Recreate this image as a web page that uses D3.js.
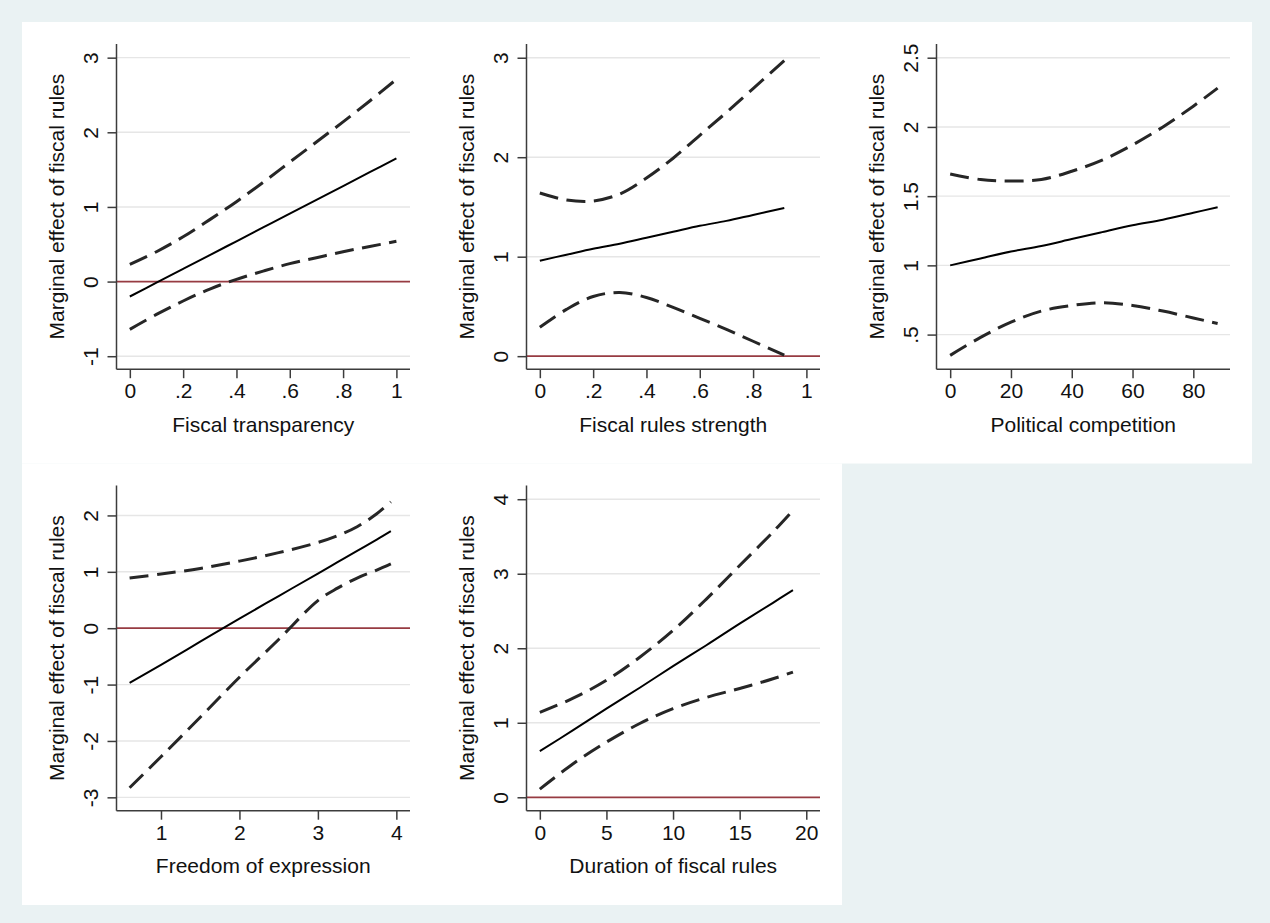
<!DOCTYPE html>
<html>
<head>
<meta charset="utf-8">
<script src="https://cdn.jsdelivr.net/npm/d3@7"></script>
<style>
  html, body { margin: 0; padding: 0; background: #eaf2f3; }
  svg { display: block; }
  text { font-family: "Liberation Sans", Arial, sans-serif; fill: #111; }
</style>
</head>
<body>
<svg id="chart" width="1270" height="923"></svg>
<script>
// ---------------- data ----------------
const yTitle = "Marginal effect of fiscal rules";

const transparencyX     = [0, 0.1, 0.2, 0.3, 0.4, 0.5, 0.6, 0.7, 0.8, 0.9, 1];
const transparencyEst   = [-0.20, -0.015, 0.17, 0.355, 0.54, 0.725, 0.91, 1.095, 1.28, 1.465, 1.65];
const transparencyUpper = [0.23, 0.40, 0.60, 0.83, 1.07, 1.33, 1.60, 1.87, 2.14, 2.42, 2.71];
const transparencyLower = [-0.64, -0.44, -0.26, -0.10, 0.03, 0.14, 0.24, 0.32, 0.40, 0.47, 0.54];
const transparencyXTicks = [0, 0.2, 0.4, 0.6, 0.8, 1];
const transparencyXLabels = ["0", ".2", ".4", ".6", ".8", "1"];
const transparencyYTicks = [-1, 0, 1, 2, 3];
const transparencyYLabels = ["-1", "0", "1", "2", "3"];

const strengthX     = [0, 0.1, 0.2, 0.3, 0.4, 0.5, 0.6, 0.7, 0.8, 0.917];
const strengthEst   = [0.96, 1.02, 1.08, 1.13, 1.19, 1.25, 1.31, 1.36, 1.42, 1.49];
const strengthUpper = [1.64, 1.57, 1.56, 1.63, 1.79, 1.99, 2.22, 2.45, 2.69, 2.97];
const strengthLower = [0.29, 0.47, 0.60, 0.64, 0.59, 0.49, 0.38, 0.27, 0.15, 0.01];
const strengthXTicks = [0, 0.2, 0.4, 0.6, 0.8, 1];
const strengthXLabels = ["0", ".2", ".4", ".6", ".8", "1"];
const strengthYTicks = [0, 1, 2, 3];
const strengthYLabels = ["0", "1", "2", "3"];

const competitionX     = [0, 10, 20, 30, 40, 50, 60, 70, 80, 88];
const competitionEst   = [1.00, 1.05, 1.10, 1.14, 1.19, 1.24, 1.29, 1.33, 1.38, 1.42];
const competitionUpper = [1.66, 1.62, 1.61, 1.62, 1.68, 1.76, 1.87, 2.00, 2.15, 2.28];
const competitionLower = [0.35, 0.48, 0.59, 0.67, 0.71, 0.73, 0.71, 0.67, 0.62, 0.58];
const competitionXTicks = [0, 20, 40, 60, 80];
const competitionXLabels = ["0", "20", "40", "60", "80"];
const competitionYTicks = [0.5, 1, 1.5, 2, 2.5];
const competitionYLabels = [".5", "1", "1.5", "2", "2.5"];

const freedomX     = [0.6, 1, 1.5, 2, 2.5, 3, 3.25, 3.5, 3.75, 3.93];
const freedomEst   = [-0.97, -0.65, -0.24, 0.17, 0.57, 0.97, 1.17, 1.37, 1.57, 1.72];
const freedomUpper = [0.89, 0.96, 1.06, 1.19, 1.34, 1.52, 1.64, 1.80, 2.03, 2.24];
const freedomLower = [-2.83, -2.28, -1.58, -0.87, -0.20, 0.49, 0.71, 0.89, 1.03, 1.14];
const freedomXTicks = [1, 2, 3, 4];
const freedomXLabels = ["1", "2", "3", "4"];
const freedomYTicks = [-3, -2, -1, 0, 1, 2];
const freedomYLabels = ["-3", "-2", "-1", "0", "1", "2"];

const durationX     = [0, 2.5, 5, 7.5, 10, 12.5, 15, 17.5, 19];
const durationEst   = [0.62, 0.90, 1.19, 1.47, 1.76, 2.04, 2.33, 2.61, 2.78];
const durationUpper = [1.14, 1.33, 1.57, 1.88, 2.24, 2.66, 3.11, 3.56, 3.85];
const durationLower = [0.11, 0.45, 0.74, 0.99, 1.19, 1.34, 1.46, 1.59, 1.68];
const durationXTicks = [0, 5, 10, 15, 20];
const durationXLabels = ["0", "5", "10", "15", "20"];
const durationYTicks = [0, 1, 2, 3, 4];
const durationYLabels = ["0", "1", "2", "3", "4"];

// ---------------- layout ----------------
const panels = [
  { title: "Fiscal transparency", col: 0, row: 0, x: transparencyX, est: transparencyEst, up: transparencyUpper, lo: transparencyLower,
    xt: transparencyXTicks, xl: transparencyXLabels, yt: transparencyYTicks, yl: transparencyYLabels,
    xDom: [-0.05, 1.051], yDom: [-1.174, 3.183] },
  { title: "Fiscal rules strength", col: 1, row: 0, x: strengthX, est: strengthEst, up: strengthUpper, lo: strengthLower,
    xt: strengthXTicks, xl: strengthXLabels, yt: strengthYTicks, yl: strengthYLabels,
    xDom: [-0.05, 1.051], yDom: [-0.131, 3.138] },
  { title: "Political competition", col: 2, row: 0, x: competitionX, est: competitionEst, up: competitionUpper, lo: competitionLower,
    xt: competitionXTicks, xl: competitionXLabels, yt: competitionYTicks, yl: competitionYLabels,
    xDom: [-4.5, 92.07], yDom: [0.25, 2.599] },
  { title: "Freedom of expression", col: 0, row: 1, x: freedomX, est: freedomEst, up: freedomUpper, lo: freedomLower,
    xt: freedomXTicks, xl: freedomXLabels, yt: freedomYTicks, yl: freedomYLabels,
    xDom: [0.433, 4.174], yDom: [-3.237, 2.531] },
  { title: "Duration of fiscal rules", col: 1, row: 1, x: durationX, est: durationEst, up: durationUpper, lo: durationLower,
    xt: durationXTicks, xl: durationXLabels, yt: durationYTicks, yl: durationYLabels,
    xDom: [-1.0, 21.03], yDom: [-0.18, 4.184] }
];

const svg = d3.select("#chart");
const outerBg = "#eaf2f3";
svg.append("rect").attr("width", 1270).attr("height", 923).attr("fill", outerBg);

const originX = 22, originY = 22;
const panelW = 410, panelH = 441.5;
const m = { left: 94.5, right: 22, top: 22, bottom: 94.3 };
const fontSize = 21;
const axisColor = "#3c3c3c";

panels.forEach(p => {
  const px = originX + p.col * panelW;
  const py = originY + p.row * panelH;
  const g = svg.append("g").attr("transform", `translate(${px},${py})`);
  g.append("rect").attr("width", panelW).attr("height", panelH).attr("fill", "#ffffff");

  const L = m.left, R = panelW - m.right, T = m.top, B = panelH - m.bottom;
  const xs = d3.scaleLinear().domain(p.xDom).range([L, R]);
  const ys = d3.scaleLinear().domain(p.yDom).range([B, T]);

  // gridlines
  g.selectAll("line.grid").data(p.yt.filter(v => v !== 0 || p.yDom[0] > 0 || p.yDom[1] < 0)).enter()
    .append("line").attr("class", "grid")
    .attr("x1", L).attr("x2", R)
    .attr("y1", d => ys(d)).attr("y2", d => ys(d))
    .attr("stroke", "#e6e6e6").attr("stroke-width", 1.4);

  // zero reference line
  if (p.yDom[0] < 0 && p.yDom[1] > 0) {
    g.append("line").attr("x1", L).attr("x2", R)
      .attr("y1", ys(0)).attr("y2", ys(0))
      .attr("stroke", "#973b42").attr("stroke-width", 1.8);
  }

  // lines
  const mk = (vals) => p.x.map((xv, i) => [xv, vals[i]]);
  const line = d3.line().x(d => xs(d[0])).y(d => ys(d[1])).curve(d3.curveCatmullRom.alpha(0.5));
  [p.up, p.lo].forEach(vals => {
    g.append("path").attr("d", line(mk(vals)))
      .attr("fill", "none").attr("stroke", "#262626").attr("stroke-width", 3)
      .attr("stroke-dasharray", "19,8.5");
  });
  g.append("path").attr("d", line(mk(p.est)))
    .attr("fill", "none").attr("stroke", "#000").attr("stroke-width", 2);

  // y axis
  const yAxis = d3.axisLeft(ys).tickValues(p.yt).tickFormat((d, i) => p.yl[i]).tickSize(9).tickSizeOuter(0);
  const ya = g.append("g").attr("transform", `translate(${L},0)`).call(yAxis);
  ya.select(".domain").attr("d", `M0,${T}V${B}`).attr("stroke", axisColor).attr("stroke-width", 1.5);
  ya.selectAll(".tick line").attr("stroke", axisColor).attr("stroke-width", 1.5);
  ya.selectAll(".tick text")
    .attr("x", null).attr("dy", null)
    .attr("transform", "translate(-18.5,0) rotate(-90)")
    .attr("text-anchor", "middle")
    .style("font-size", fontSize + "px").style("font-family", "'Liberation Sans', Arial, sans-serif")
    .attr("fill", "#111");

  // x axis
  const xAxis = d3.axisBottom(xs).tickValues(p.xt).tickFormat((d, i) => p.xl[i]).tickSize(9).tickSizeOuter(0);
  const xa = g.append("g").attr("transform", `translate(0,${B})`).call(xAxis);
  xa.select(".domain").attr("d", `M${L},0H${R}`).attr("stroke", axisColor).attr("stroke-width", 1.5);
  xa.selectAll(".tick line").attr("stroke", axisColor).attr("stroke-width", 1.5);
  xa.selectAll(".tick text")
    .attr("y", 29).attr("dy", null)
    .style("font-size", fontSize + "px").style("font-family", "'Liberation Sans', Arial, sans-serif")
    .attr("fill", "#111");

  // titles
  g.append("text").attr("x", (L + R) / 2).attr("y", B + 62.5)
    .attr("text-anchor", "middle").style("font-size", fontSize + "px").text(p.title);
  g.append("text").attr("transform", `translate(${L - 52.5},${(T + B) / 2}) rotate(-90)`)
    .attr("text-anchor", "middle").style("font-size", fontSize + "px").text(yTitle);
});
</script>
</body>
</html>
